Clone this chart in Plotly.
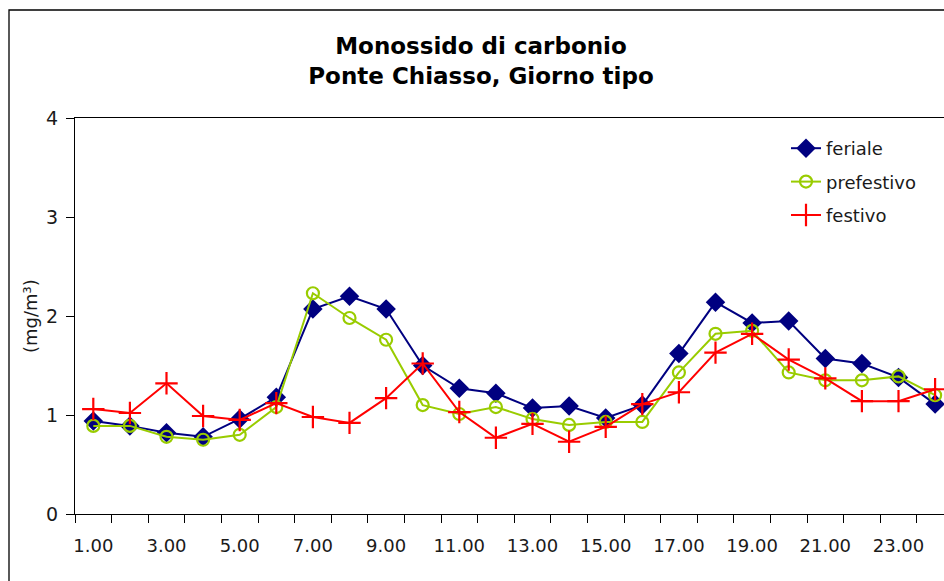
import plotly.graph_objects as go

# Hourly CO concentrations (mg/m³), typical day at Ponte Chiasso
hours = [f"{h}.00" for h in range(1, 25)]
feriale = [0.94, 0.89, 0.82, 0.78, 0.96, 1.18, 2.07, 2.20, 2.07, 1.50, 1.27, 1.22,
           1.07, 1.09, 0.97, 1.10, 1.62, 2.14, 1.93, 1.95, 1.57, 1.52, 1.38, 1.11]
prefestivo = [0.89, 0.89, 0.78, 0.75, 0.80, 1.08, 2.23, 1.98, 1.76, 1.10, 1.01, 1.08,
              0.96, 0.90, 0.93, 0.93, 1.43, 1.82, 1.85, 1.43, 1.35, 1.35, 1.39, 1.20]
festivo = [1.06, 1.02, 1.32, 0.99, 0.95, 1.12, 0.98, 0.92, 1.17, 1.52, 1.03, 0.77,
           0.91, 0.73, 0.88, 1.11, 1.23, 1.63, 1.82, 1.56, 1.37, 1.14, 1.14, 1.26]

y_ticks = [0, 1, 2, 3, 4]

xpos = list(range(len(hours)))
FONT = "DejaVu Sans"
TXT = "#1a1a1a"
W, H = 944, 581
L, R, T, B = 75, 0, 118, 67

fig = go.Figure()
fig.add_trace(go.Scatter(
    x=xpos, y=feriale, name="feriale", mode="lines+markers", legendgroup="a",
    line=dict(color="#000080", width=2),
    marker=dict(symbol="diamond", size=15, color="#000080"),
))
fig.add_trace(go.Scatter(
    x=xpos, y=prefestivo, name="prefestivo", mode="lines+markers", legendgroup="b",
    line=dict(color="#99CC00", width=2),
    marker=dict(symbol="circle-open", size=12, color="#99CC00", line=dict(width=2.2)),
))
fig.add_trace(go.Scatter(
    x=xpos, y=festivo, name="festivo", mode="lines+markers", legendgroup="c",
    line=dict(color="#FF0000", width=2),
    marker=dict(symbol="cross-thin", size=16, color="#FF0000", line=dict(width=2.2, color="#FF0000")),
))

plot_w = W - L - R
plot_h = H - T - B
step = 36.6  # pixels per hour slot
x_max = -0.5 + plot_w / step

fig.update_layout(
    width=W, height=H,
    margin=dict(l=L, r=R, t=T, b=B),
    paper_bgcolor="white", plot_bgcolor="white",
    font=dict(family=FONT, size=18, color=TXT),
    title=dict(
        text="<b>Monossido di carbonio</b><br><b>Ponte Chiasso, Giorno tipo</b>",
        x=481 / W, xanchor="center", xref="container",
        y=1 - 54 / H, yanchor="top", yref="container",
        font=dict(family=FONT, size=23, color="black"),
    ),
    showlegend=True,
    legend=dict(
        x=(786 - L) / plot_w, xanchor="left",
        y=1 - (130 - T) / plot_h, yanchor="top",
        bgcolor="rgba(0,0,0,0)", borderwidth=0,
        font=dict(family=FONT, size=18, color=TXT),
        tracegroupgap=7, itemsizing="trace",
    ),
    xaxis=dict(
        range=[-0.5, x_max], showgrid=False, zeroline=False,
        showline=True, linecolor="black", linewidth=1.2, mirror=True,
        tickvals=xpos[::2], ticktext=hours[::2], ticks="",
        ticklabelstandoff=15,
        minor=dict(tickvals=[i - 0.5 for i in range(len(hours) + 1)],
                   ticks="outside", ticklen=8, tickcolor="black", tickwidth=1.2,
                   showgrid=False),
        tickfont=dict(family=FONT, size=18, color=TXT),
    ),
    yaxis=dict(
        range=[0, 4], tickvals=y_ticks, showgrid=False, zeroline=False,
        showline=True, linecolor="black", linewidth=1.2,
        ticks="outside", ticklen=8, tickcolor="black", tickwidth=1.2,
        ticklabelstandoff=4,
        tickfont=dict(family=FONT, size=19, color=TXT),
    ),
)

# Y-axis unit label
fig.add_annotation(text="(mg/m³)", textangle=-90, showarrow=False,
                   xref="paper", yref="paper", x=(30 - L) / plot_w, y=0.5,
                   xanchor="center", yanchor="middle",
                   font=dict(family=FONT, size=18, color=TXT))

# Outer chart frame
fig.add_shape(type="rect", xref="paper", yref="paper",
              x0=(9 - L) / plot_w, x1=1.2,
              y0=-0.4, y1=(H - B - 10) / plot_h,
              line=dict(color="black", width=1.3), layer="below")

fig.write_html("out.html")
